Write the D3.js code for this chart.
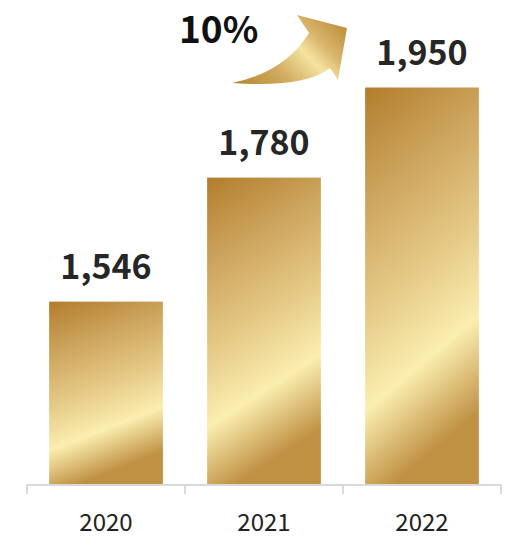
<!DOCTYPE html>
<html><head><meta charset="utf-8">
<script src="https://cdn.jsdelivr.net/npm/d3@7"></script>
<style>body{margin:0;background:#fff}svg{display:block}</style>
</head><body>
<svg id="c" width="510" height="540"></svg>
<script>
const categories = ["2020", "2021", "2022"];
const values = [1546, 1780, 1950];
const valueLabels = ["1,546", "1,780", "1,950"];
const growthLabel = "10%";

const svg = d3.select("#c");
const font = "'Noto Sans CJK KR','Noto Sans',sans-serif";
const x = d3.scaleBand().domain(categories).range([27, 501]).paddingInner(0.28).paddingOuter(0.14);
const y = d3.scaleLinear().domain([1200, 2000]).range([485, 61]);

const defs = svg.append("defs");
const g1 = defs.append("linearGradient").attr("id", "barG").attr("x1", 0).attr("y1", 0).attr("x2", 0.24).attr("y2", 1);
[[0, "#b27d2c"], [0.3, "#cfa862"], [0.55, "#e6cb88"], [0.77, "#faeeb0"], [1, "#c09143"]].forEach(([o, c]) => g1.append("stop").attr("offset", o).attr("stop-color", c));
const g2 = defs.append("linearGradient").attr("id", "arrG").attr("x1", 0).attr("y1", 0.9).attr("x2", 1).attr("y2", 0.3);
[[0, "#b9872f"], [0.35, "#d2ad62"], [0.62, "#f5e3a0"], [0.8, "#d8b46a"], [1, "#c39645"]].forEach(([o, c]) => g2.append("stop").attr("offset", o).attr("stop-color", c));

svg.selectAll("rect.bar").data(values).join("rect").attr("class", "bar")
  .attr("x", (d, i) => x(categories[i])).attr("width", x.bandwidth())
  .attr("y", d => y(d)).attr("height", d => y.range()[0] - y(d))
  .attr("fill", "url(#barG)");

svg.selectAll("text.val").data(values).join("text").attr("class", "val")
  .attr("x", (d, i) => x(categories[i]) + x.bandwidth() / 2).attr("y", d => y(d) - 23)
  .attr("text-anchor", "middle").attr("font-family", font).attr("font-weight", 700)
  .attr("font-size", 34).attr("fill", "#262626").text((d, i) => valueLabels[i]);

// axis
const base = y.range()[0];
const step = x.step();
const ticks = [x.range()[0]].concat(categories.map(c => x(c) + x.bandwidth() + step * x.paddingInner() / 2));
ticks[ticks.length - 1] = x.range()[1];
svg.append("line").attr("x1", x.range()[0]).attr("x2", x.range()[1]).attr("y1", base).attr("y2", base).attr("stroke", "#d9d9d9").attr("stroke-width", 2);
svg.selectAll("line.tk").data(ticks).join("line").attr("class", "tk")
  .attr("x1", d => d).attr("x2", d => d).attr("y1", base).attr("y2", base + 9)
  .attr("stroke", "#d9d9d9").attr("stroke-width", 2);
svg.selectAll("text.cat").data(categories).join("text").attr("class", "cat")
  .attr("x", d => x(d) + x.bandwidth() / 2).attr("y", 531)
  .attr("text-anchor", "middle").attr("font-family", font).attr("font-size", 24)
  .attr("fill", "#222").text(d => d);

// growth arrow
svg.append("path").attr("d", "M232,83 Q285,72 309,33 L297,15 L347,28 L338,80 L330,68 Q305,88 232,83 Z").attr("fill", "url(#arrG)");
svg.append("text").attr("x", 179).attr("y", 43).attr("font-family", font).attr("font-weight", 700)
  .attr("font-size", 37).attr("fill", "#111").text(growthLabel);
</script>
</body></html>
